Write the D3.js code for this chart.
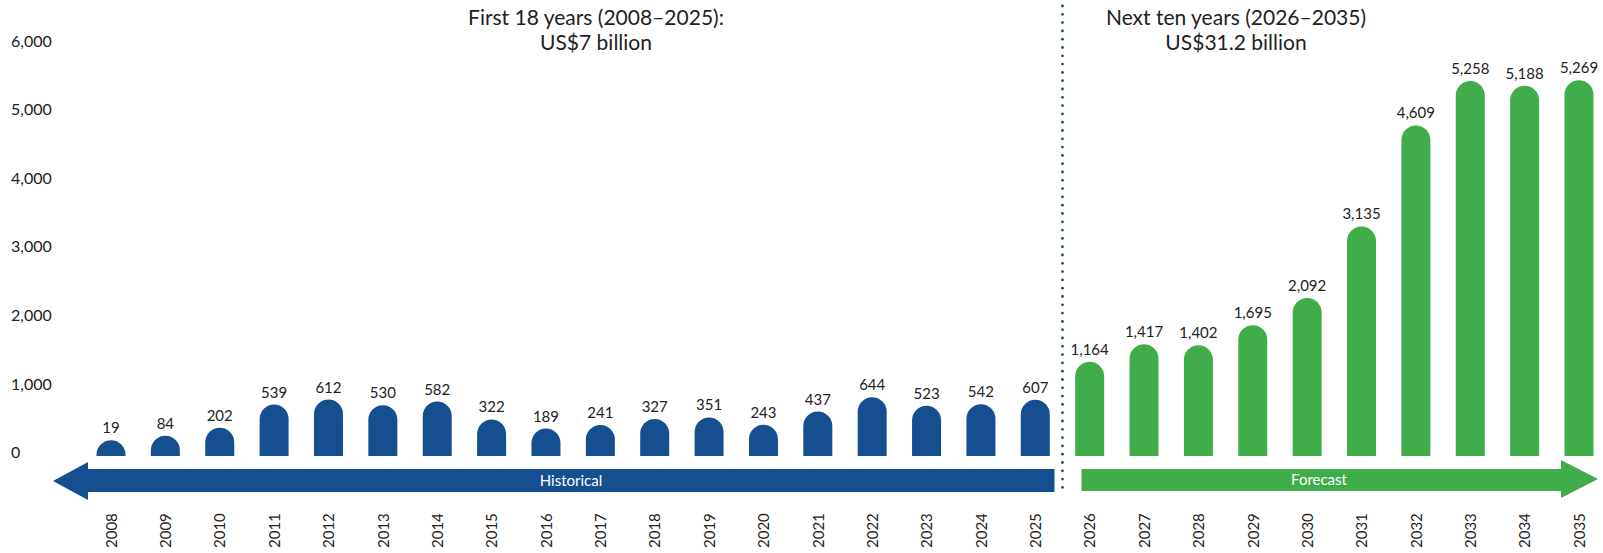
<!DOCTYPE html>
<html>
<head>
<meta charset="utf-8">
<script src="https://cdn.jsdelivr.net/npm/d3@7"></script>
<style>
  html, body { margin: 0; padding: 0; background: #fff; }
  svg { display: block; font-family: Lato, "Noto Sans", sans-serif; }
</style>
</head>
<body>
<svg id="chart" width="1603" height="553"></svg>
<script>
// Annual values (US$ million)
const historicalYears = ["2008","2009","2010","2011","2012","2013","2014","2015","2016","2017","2018","2019","2020","2021","2022","2023","2024","2025"];
const historicalValues = [19, 84, 202, 539, 612, 530, 582, 322, 189, 241, 327, 351, 243, 437, 644, 523, 542, 607];
const forecastYears = ["2026","2027","2028","2029","2030","2031","2032","2033","2034","2035"];
const forecastValues = [1164, 1417, 1402, 1695, 2092, 3135, 4609, 5258, 5188, 5269];
const yTicks = [0, 1000, 2000, 3000, 4000, 5000, 6000];
const titles = [
  ["First 18 years (2008\u20132025):", "US$7 billion"],
  ["Next ten years (2026\u20132035)", "US$31.2 billion"]
];

const BLUE = "#154f8f";
const GREEN = "#41ad4a";
const TEXT = "#222222";
const FONT = "Lato, 'Noto Sans', sans-serif";

const svg = d3.select("#chart");
const years = historicalYears.concat(forecastYears);
const rows = historicalYears.map((y, i) => ({ year: y, value: historicalValues[i], color: BLUE }))
  .concat(forecastYears.map((y, i) => ({ year: y, value: forecastValues[i], color: GREEN })));

const x = d3.scalePoint().domain(years).range([111, 1579]);
const y = d3.scaleLinear().domain([0, 6000]).range([456, 44.5]);
const barW = 29, r = barW / 2;

// y-axis labels (no axis line, no grid)
const yAxis = d3.axisLeft(y).tickValues(yTicks).tickFormat(d3.format(",")).tickSize(0);
const gy = svg.append("g").attr("transform", "translate(11,0)").call(yAxis);
gy.select(".domain").remove();
gy.selectAll("text")
  .attr("text-anchor", "start").attr("x", 0).attr("dy", "0.32em")
  .attr("transform", "translate(0,-3.5)")
  .attr("fill", TEXT).style("font-size", "16px").style("font-family", FONT);

// bars: body from baseline up to the value, finished with a round cap
function barPath(d) {
  const cx = x(d.year), y0 = y(0), y1 = y(d.value);
  const p = d3.path();
  p.moveTo(cx - r, y0);
  p.lineTo(cx - r, y1);
  p.arc(cx, y1, r, Math.PI, 0);
  p.lineTo(cx + r, y0);
  p.closePath();
  return p.toString();
}
svg.append("g").selectAll("path").data(rows).join("path")
  .attr("d", barPath).attr("fill", d => d.color);

// value labels
svg.append("g").selectAll("text").data(rows).join("text")
  .attr("x", d => x(d.year)).attr("y", d => y(d.value) - r - 7)
  .attr("text-anchor", "middle").attr("fill", TEXT).style("font-size", "15px")
  .text(d => d3.format(",")(d.value));

// x-axis year labels, rotated
const xAxis = d3.axisBottom(x).tickSize(0).tickPadding(0);
const gx = svg.append("g").attr("transform", "translate(0,513)").call(xAxis);
gx.select(".domain").remove();
gx.selectAll(".tick text")
  .attr("transform", "rotate(-90)").attr("text-anchor", "start")
  .attr("x", -35).attr("y", 0).attr("dy", "0.35em")
  .attr("fill", TEXT).style("font-size", "15px").style("font-family", FONT);

// divider between history and forecast
const divX = (x("2025") + x("2026")) / 2;
svg.append("g").selectAll("circle").data(d3.range(6, 490, 8.3)).join("circle")
  .attr("cx", divX).attr("cy", d => d).attr("r", 1.4).attr("fill", "#1d4f6e");

// timeline arrows
const histLeft = 53, histRight = divX - 8;
svg.append("path")
  .attr("d", `M${histLeft},481 L${histLeft + 35},462 L${histLeft + 35},469 L${histRight},469 L${histRight},492 L${histLeft + 35},492 L${histLeft + 35},500 Z`)
  .attr("fill", BLUE);
const fcLeft = divX + 19, fcTip = 1598;
svg.append("path")
  .attr("d", `M${fcLeft},469 L${fcTip - 37},469 L${fcTip - 37},460 L${fcTip},479 L${fcTip - 37},498 L${fcTip - 37},491 L${fcLeft},491 Z`)
  .attr("fill", GREEN);
svg.append("text").attr("x", 571).attr("y", 486).attr("text-anchor", "middle")
  .attr("fill", "#fff").style("font-size", "15px").text("Historical");
svg.append("text").attr("x", 1319).attr("y", 485).attr("text-anchor", "middle")
  .attr("fill", "#fff").style("font-size", "15px").text("Forecast");

// period titles
const titleX = [596, 1236];
titles.forEach((lines, i) => {
  const t = svg.append("text").attr("text-anchor", "middle").attr("fill", TEXT).style("font-size", "21px");
  lines.forEach((s, j) => t.append("tspan").attr("x", titleX[i]).attr("y", 25 + j * 25).text(s));
});
</script>
</body>
</html>
